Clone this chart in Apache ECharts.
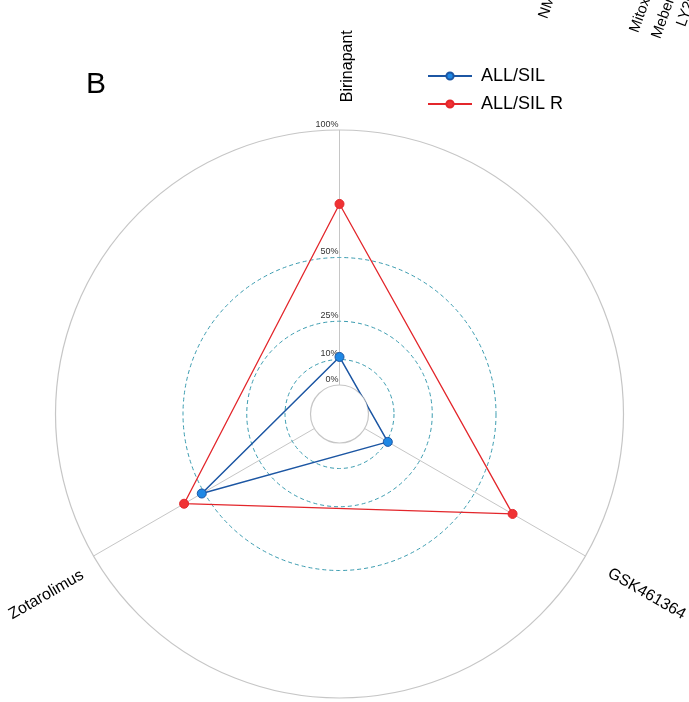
<!DOCTYPE html>
<html>
<head>
<meta charset="utf-8">
<script src="https://cdn.jsdelivr.net/npm/echarts@6/dist/echarts.min.js"></script>
<style>
  html, body { margin: 0; padding: 0; background: #fff; }
  #chart { width: 689px; height: 702px; }
</style>
</head>
<body>
<div id="chart"></div>
<script>
// Drugs on the radar spokes, clockwise from the top
const drugs = ['Birinapant', 'GSK461364', 'Zotarolimus'];
const drugAngles = [0, 120, 240];

// Response (%) per drug for each cell line
const seriesNames = ['ALL/SIL', 'ALL/SIL R'];
const allSil = [11, 10.5, 51];
const allSilR = [71, 67, 59];

// Radial gridlines and their labels
const dashedGrid = [10, 25, 50];
const tickValues = [0, 10, 25, 50, 100];
const tickLabels = ['0%', '10%', '25%', '50%', '100%'];

// Clipped axis names belonging to the neighbouring panel
const neighbourLabels = ['NM', 'Mitox', 'Mebend', 'LY29'];

const FONT = '"Liberation Sans", Arial, Helvetica, sans-serif';

function closedLoop(values) {
  const pts = values.map((v, i) => [v, drugAngles[i]]);
  pts.push({ value: [values[0], 360], symbol: 'none' });
  return pts;
}

const chart = echarts.init(document.getElementById('chart'), null, { renderer: 'canvas' });

const labelRadius = 125;
const nameOffsets = [[8, 0], [6, 6], [8, 7]];

chart.setOption({
  animation: false,
  backgroundColor: '#ffffff',
  title: {
    text: 'B', left: 81, top: 65,
    textStyle: { fontSize: 30, fontWeight: 'normal', color: '#000', fontFamily: FONT }
  },
  legend: {
    data: seriesNames,
    orient: 'vertical',
    left: 422, top: 62,
    itemWidth: 44, itemHeight: 9, itemGap: 10,
    textStyle: { fontSize: 18, color: '#000', fontFamily: FONT, padding: [0, 0, 0, 4] }
  },
  polar: { center: [339.5, 414], radius: [29, 284] },
  angleAxis: {
    type: 'value', min: 0, max: 360, interval: 120,
    startAngle: 90, clockwise: true,
    axisLine: { show: false }, axisTick: { show: false }, axisLabel: { show: false },
    splitLine: { show: true, lineStyle: { color: '#C6C6C6', width: 1 } }
  },
  radiusAxis: {
    type: 'value', min: 0, max: 100, interval: 100,
    axisLine: { show: false }, axisTick: { show: false }, axisLabel: { show: false },
    splitLine: { show: true, lineStyle: { color: '#C6C6C6', width: 1.2 } }
  },
  graphic: neighbourLabels.map((t, i) => ({
    type: 'text',
    x: [543, 634, 656, 681][i],
    y: [18, 32, 38, 26][i],
    rotation: 70 * Math.PI / 180,
    style: { text: t, font: '15px ' + FONT, fill: '#000', align: 'left', verticalAlign: 'middle' }
  })),
  series: [
    {
      type: 'custom', coordinateSystem: 'polar', silent: true, z: 1,
      data: dashedGrid.map(v => [v, 0]),
      renderItem: (params, api) => {
        const cs = params.coordSys;
        const p = api.coord([api.value(0), 0]);
        const r = Math.hypot(p[0] - cs.cx, p[1] - cs.cy);
        return {
          type: 'circle',
          shape: { cx: cs.cx, cy: cs.cy, r: r },
          style: { fill: 'none', stroke: '#3B9CB0', lineWidth: 1, lineDash: [4, 3] }
        };
      }
    },
    {
      type: 'custom', coordinateSystem: 'polar', silent: true, z: 2,
      data: tickValues.map(v => [v, 0]),
      renderItem: (params, api) => {
        const p = api.coord([api.value(0), 0]);
        return {
          type: 'text',
          style: {
            x: p[0] - 1, y: p[1] - 1, text: tickLabels[params.dataIndex],
            align: 'right', verticalAlign: 'bottom',
            font: '9px ' + FONT, fill: '#333'
          }
        };
      }
    },
    {
      type: 'custom', coordinateSystem: 'polar', silent: true, z: 2,
      data: drugAngles.map(a => [labelRadius, a]),
      renderItem: (params, api) => {
        const i = params.dataIndex;
        const ang = api.value(1);
        const p = api.coord([api.value(0), ang]);
        let rot = 90 - ang;
        if (rot < -90) rot += 180;
        return {
          type: 'text',
          x: p[0] + nameOffsets[i][0], y: p[1] + nameOffsets[i][1],
          rotation: rot * Math.PI / 180,
          style: {
            text: drugs[i], align: 'center', verticalAlign: 'middle',
            font: '16px ' + FONT, fill: '#000'
          }
        };
      }
    },
    {
      name: seriesNames[0], type: 'line', coordinateSystem: 'polar', z: 5,
      data: closedLoop(allSil),
      symbol: 'circle', symbolSize: 9,
      lineStyle: { color: '#1C56A3', width: 1.5 },
      itemStyle: { color: '#1E88E5', borderColor: '#1C56A3', borderWidth: 1 }
    },
    {
      name: seriesNames[1], type: 'line', coordinateSystem: 'polar', z: 4,
      data: closedLoop(allSilR),
      symbol: 'circle', symbolSize: 9,
      lineStyle: { color: '#E3262B', width: 1.3 },
      itemStyle: { color: '#F03234', borderColor: '#E3262B', borderWidth: 1 }
    }
  ]
});
</script>
</body>
</html>
